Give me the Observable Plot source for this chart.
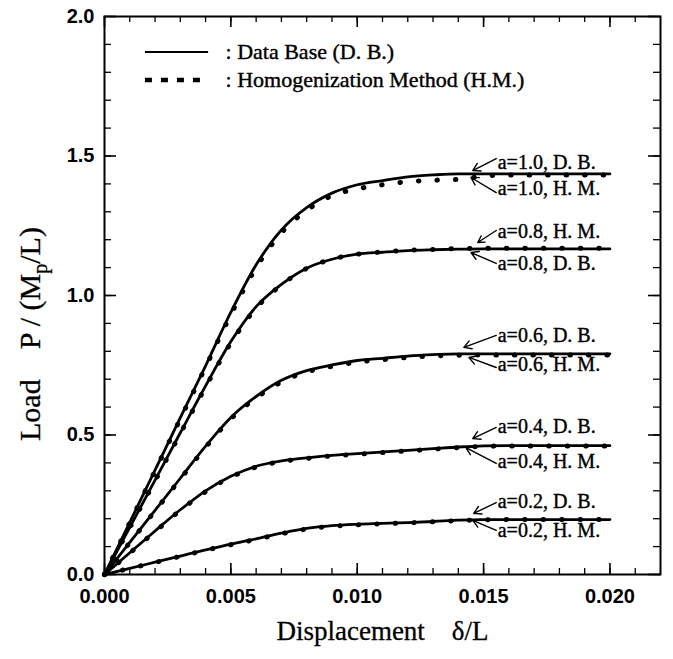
<!DOCTYPE html>
<html><head><meta charset="utf-8">
<script src="https://cdn.jsdelivr.net/npm/d3@7"></script>
<script src="https://cdn.jsdelivr.net/npm/@observablehq/plot@0.6"></script>
<style>
body{margin:0;background:#fff;}
#chart{width:673px;height:659px;}
</style></head><body><div id="chart"></div>
<script>
// displacement δ/L sample points
const xs = [0,0.001,0.002,0.003,0.004,0.005,0.006,0.007,0.008,0.009,0.010,0.011,0.012,0.013,0.014,0.015,0.016,0.017,0.018,0.019,0.020];
// Data Base (D. B.)
const db10 = [0,0.187,0.374,0.562,0.748,0.94,1.11,1.235,1.315,1.367,1.397,1.412,1.425,1.432,1.436,1.436,1.436,1.436,1.436,1.436,1.436];
const db08 = [0,0.169,0.338,0.508,0.676,0.835,0.96,1.04,1.098,1.13,1.148,1.155,1.161,1.164,1.166,1.167,1.167,1.167,1.167,1.167,1.167];
const db06 = [0,0.115,0.23,0.345,0.46,0.563,0.638,0.696,0.731,0.751,0.767,0.775,0.783,0.788,0.791,0.791,0.791,0.791,0.791,0.791,0.791];
const db04 = [0,0.078,0.156,0.232,0.30,0.352,0.388,0.407,0.418,0.427,0.433,0.439,0.445,0.451,0.457,0.461,0.462,0.462,0.462,0.462,0.462];
const db02 = [0,0.022,0.044,0.066,0.088,0.109,0.128,0.148,0.165,0.175,0.18,0.183,0.186,0.19,0.195,0.197,0.197,0.197,0.197,0.197,0.197];
// Homogenization Method (H.M.)
const hm10 = [0,0.186,0.372,0.558,0.744,0.932,1.10,1.225,1.305,1.358,1.382,1.397,1.408,1.413,1.416,1.428,1.432,1.432,1.432,1.432,1.432];
const hm08 = [0,0.168,0.336,0.505,0.672,0.83,0.955,1.038,1.097,1.13,1.148,1.156,1.162,1.165,1.168,1.169,1.169,1.169,1.169,1.169,1.169];
const hm06 = [0,0.114,0.228,0.342,0.456,0.558,0.633,0.69,0.726,0.746,0.761,0.77,0.778,0.783,0.786,0.787,0.787,0.787,0.787,0.787,0.787];
const hm04 = [0,0.077,0.154,0.23,0.297,0.349,0.385,0.405,0.416,0.425,0.431,0.437,0.443,0.449,0.455,0.459,0.461,0.461,0.461,0.461,0.461];
const hm02 = [0,0.022,0.043,0.065,0.087,0.107,0.126,0.146,0.163,0.173,0.178,0.182,0.185,0.189,0.193,0.196,0.197,0.197,0.197,0.197,0.197];

const xTicks = [0,0.005,0.010,0.015,0.020];
const yTicks = [0,0.5,1.0,1.5,2.0];
const xMinor = [0,0.001,0.002,0.003,0.004,0.005,0.006,0.007,0.008,0.009,0.010,0.011,0.012,0.013,0.014,0.015,0.016,0.017,0.018,0.019,0.020,0.021];
const yMinor = [0,0.1,0.2,0.3,0.4,0.5,0.6,0.7,0.8,0.9,1.0,1.1,1.2,1.3,1.4,1.5,1.6,1.7,1.8,1.9];

// annotations
const annLabels = ["a=1.0, D. B.","a=1.0, H. M.","a=0.8, H. M.","a=0.8, D. B.","a=0.6, D. B.","a=0.6, H. M.","a=0.4, D. B.","a=0.4, H. M.","a=0.2, D. B.","a=0.2, H. M."];
const annTextY = [1.478,1.382,1.228,1.113,0.855,0.754,0.529,0.403,0.263,0.156];
const annTailY = [1.491,1.369,1.233,1.115,0.857,0.742,0.527,0.398,0.258,0.158];
const annHeadX = [0.01457,0.0145,0.01477,0.0145,0.01422,0.01442,0.01457,0.0143,0.01461,0.01457];
const annHeadY = [1.448,1.423,1.190,1.154,0.814,0.778,0.487,0.455,0.219,0.194];
const annTextX = 0.01556, annTailX = 0.0155;

const legendLabels = [": Data Base (D. B.)", ": Homogenization Method (H.M.)"];
const legendY = [1.873, 1.772];
const legendX1 = 0.00162, legendX2 = 0.00412, legendTextX = 0.00479;

function rows(ys, a) { return xs.map((x, i) => ({x, y: ys[i], a})); }
const dbData = [].concat(rows(db10,"1.0"),rows(db08,"0.8"),rows(db06,"0.6"),rows(db04,"0.4"),rows(db02,"0.2"));
const hmData = [].concat(rows(hm10,"1.0"),rows(hm08,"0.8"),rows(hm06,"0.6"),rows(hm04,"0.4"),rows(hm02,"0.2"));
const ann = annLabels.map((label, i) => ({label, ty: annTextY[i], tailY: annTailY[i], hx: annHeadX[i], hy: annHeadY[i]}));

const W = 673, H = 659, mL = 104, mR = 13, mT = 16, mB = 85;
const majLenX = 11 * 2 / (H - mT - mB);
const minLenX = 6 * 2 / (H - mT - mB);
const majLenY = 12 * 0.022 / (W - mL - mR);
const minLenY = 7 * 0.022 / (W - mL - mR);

const serif = "'Liberation Serif','Times New Roman',serif";
const sans = "'Liberation Sans',Arial,sans-serif";

const chart = Plot.plot({
  width: W, height: H,
  marginLeft: mL, marginRight: mR, marginTop: mT, marginBottom: mB,
  style: {background: "#fff", color: "#000"},
  x: {domain: [0, 0.022]},
  y: {domain: [0, 2]},
  marks: [
    Plot.ruleX(xMinor, {x: d => d, y1: 0, y2: minLenX, stroke: "#000", strokeWidth: 1.3}),
    Plot.ruleX(xTicks, {x: d => d, y1: 0, y2: majLenX, stroke: "#000", strokeWidth: 1.6}),
    Plot.ruleX(xMinor, {x: d => d, y1: 2, y2: 2 - minLenX, stroke: "#000", strokeWidth: 1.3}),
    Plot.ruleX(xTicks, {x: d => d, y1: 2, y2: 2 - majLenX, stroke: "#000", strokeWidth: 1.6}),
    Plot.ruleY(yMinor, {y: d => d, x1: 0, x2: minLenY, stroke: "#000", strokeWidth: 1.3}),
    Plot.ruleY(yTicks, {y: d => d, x1: 0, x2: majLenY, stroke: "#000", strokeWidth: 1.6}),
    Plot.ruleY(yMinor, {y: d => d, x1: 0.022, x2: 0.022 - minLenY, stroke: "#000", strokeWidth: 1.3}),
    Plot.ruleY(yTicks, {y: d => d, x1: 0.022, x2: 0.022 - majLenY, stroke: "#000", strokeWidth: 1.6}),
    Plot.frame({stroke: "#000", strokeWidth: 2}),
    Plot.axisX(xTicks, {tickSize: 0, tickPadding: 14, tickFormat: d3.format(".3f"), fontSize: 20, fontWeight: "bold", fontFamily: sans, label: null}),
    Plot.axisY(yTicks, {tickSize: 0, tickPadding: 10, tickFormat: d3.format(".1f"), fontSize: 20, fontWeight: "bold", fontFamily: sans, label: null}),
    Plot.line(dbData, {x: "x", y: "y", z: "a", stroke: "#000", strokeWidth: 2.8, curve: "monotone-x"}),
    Plot.line(hmData, {x: "x", y: "y", z: "a", stroke: "#000", strokeWidth: 5, strokeDasharray: "0.5,18", strokeLinecap: "round", curve: "monotone-x"}),
    Plot.arrow(ann, {x1: () => annTailX, y1: "tailY", x2: "hx", y2: "hy", stroke: "#000", strokeWidth: 1.4, headLength: 9}),
    Plot.text(ann, {x: () => annTextX, y: "ty", text: "label", textAnchor: "start", fontSize: 20, fontFamily: serif, fill: "#000", stroke: "#000", strokeWidth: 0.4}),
    Plot.ruleY([legendY[0]], {y: d => d, x1: legendX1, x2: legendX2, stroke: "#000", strokeWidth: 2}),
    Plot.ruleY([legendY[1]], {y: d => d, x1: legendX1, x2: legendX2, stroke: "#000", strokeWidth: 4.5, strokeDasharray: "7,9"}),
    Plot.text(legendLabels, {x: () => legendTextX, y: (d, i) => legendY[i], text: d => d, textAnchor: "start", fontSize: 22, fontFamily: serif, fill: "#000", stroke: "#000", strokeWidth: 0.4}),
    Plot.text(["Displacement\u00a0\u00a0\u00a0 δ/L"], {frameAnchor: "bottom", dy: 65, text: d => d, fontSize: 27, fontFamily: serif, fill: "#000", stroke: "#000", strokeWidth: 0.3})
  ]
});

const svg = d3.select(chart);
const yc = chart.scale("y").apply(0.86);
svg.append("text")
  .attr("transform", `translate(${40},${yc}) rotate(-90)`)
  .attr("text-anchor", "middle")
  .attr("font-family", serif)
  .attr("font-size", 30)
  .attr("fill", "#000")
  .attr("stroke", "#000")
  .attr("stroke-width", 0.3)
  .call(t => {
    t.append("tspan").text("Load\u00a0\u00a0\u00a0 P / (M");
    t.append("tspan").attr("font-size", 20).attr("dy", 7).text("p");
    t.append("tspan").attr("dy", -7).text("/L)");
  });

document.getElementById("chart").appendChild(chart);
</script>
</body></html>
